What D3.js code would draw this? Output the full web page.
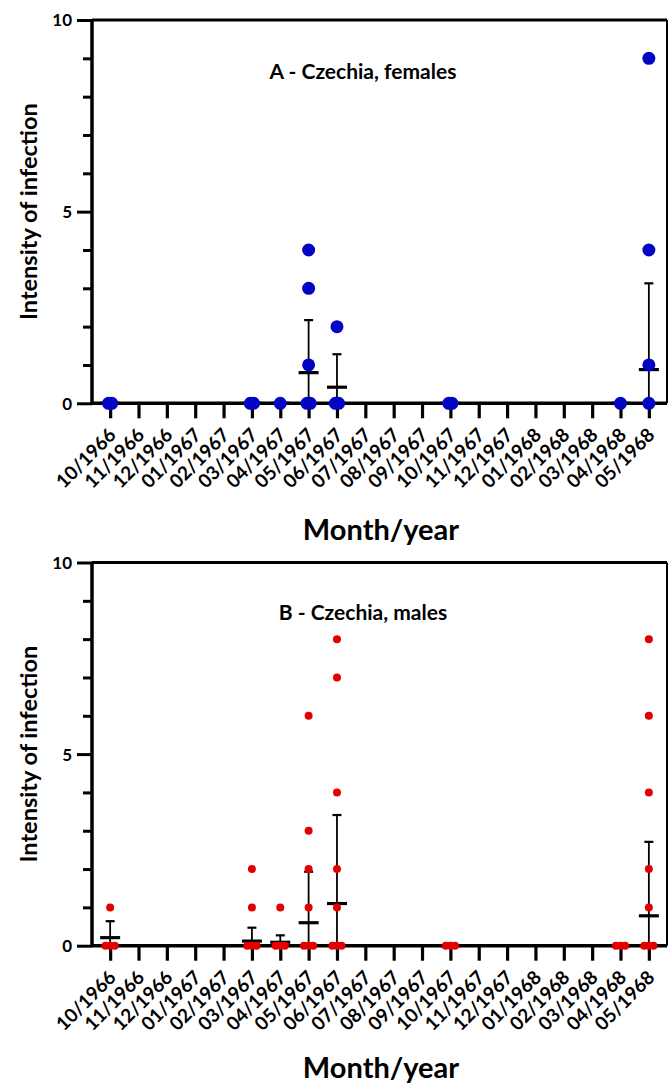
<!DOCTYPE html>
<html>
<head>
<meta charset="utf-8">
<script src="https://cdn.jsdelivr.net/npm/d3@7/dist/d3.min.js"></script>
<style>
  html, body { margin: 0; padding: 0; background: #fff; }
  svg { display: block; }
  text { font-family: Lato, "Open Sans", sans-serif; font-weight: bold; fill: #000; }
</style>
</head>
<body>
<svg id="chart" width="668" height="1086"></svg>
<script>
// ---------- data ----------
const months = ["10/1966","11/1966","12/1966","01/1967","02/1967","03/1967","04/1967","05/1967","06/1967","07/1967","08/1967","09/1967","10/1967","11/1967","12/1967","01/1968","02/1968","03/1968","04/1968","05/1968"];
const yTicksMajor = [0, 5, 10];
const yTicksMinor = [1, 2, 3, 4, 6, 7, 8, 9];

const sampledMonths = ["10/1966","03/1967","04/1967","05/1967","06/1967","10/1967","04/1968","05/1968"];

const femaleValues = [[0,0],[0,0],[0],[4,3,1,0,0],[2,0,0],[0,0],[0],[9,4,1,0]];
const femaleMean   = [0, 0, 0, 0.80, 0.42, 0, 0, 0.88];
const femaleSD     = [0, 0, 0, 1.37, 0.86, 0, 0, 2.25];

const maleValues = [[1,0,0,0],[2,1,0,0,0],[1,0,0,0],[6,3,2,1,0,0,0],[8,7,4,2,1,0,0,0],[0,0,0],[0,0,0],[8,6,4,2,1,0,0,0]];
const maleMean   = [0.21, 0.12, 0.09, 0.60, 1.10, 0, 0, 0.78];
const maleSD     = [0.43, 0.35, 0.18, 1.33, 2.31, 0, 0, 1.93];

const panels = [
  { title: "A - Czechia, females", values: femaleValues, mean: femaleMean, sd: femaleSD,
    color: "#0404c4", r: 6.5, spread: 1.6, top: 20, bottom: 403.3, titleY: 79, xTitleY: 540 },
  { title: "B - Czechia, males", values: maleValues, mean: maleMean, sd: maleSD,
    color: "#e20000", r: 4, spread: 4.6, top: 562.5, bottom: 945.7, titleY: 620, xTitleY: 1078 }
];

// ---------- drawing ----------
const svg = d3.select("#chart");
const left = 92, right = 667;

const x = d3.scalePoint().domain(months).range([left, right]).padding(0.64);

panels.forEach(p => {
  const g = svg.append("g");
  const y = d3.scaleLinear().domain([0, 10]).range([p.bottom, p.top]);

  // frame (top & right)
  g.append("line").attr("x1", left).attr("x2", right).attr("y1", p.top).attr("y2", p.top)
    .attr("stroke", "#000").attr("stroke-width", 3);
  g.append("line").attr("x1", right).attr("x2", right).attr("y1", p.top).attr("y2", p.bottom)
    .attr("stroke", "#000").attr("stroke-width", 2);

  // error bars and means (drawn under the axes and points)
  sampledMonths.forEach((m, i) => {
    const cx = x(m);
    const mean = p.mean[i], sd = p.sd[i];
    if (sd > 0) {
      g.append("line").attr("x1", cx).attr("x2", cx)
        .attr("y1", y(Math.max(0, mean - sd))).attr("y2", y(mean + sd))
        .attr("stroke", "#000").attr("stroke-width", 1.8);
      g.append("line").attr("x1", cx - 4.5).attr("x2", cx + 4.5).attr("y1", y(mean + sd)).attr("y2", y(mean + sd))
        .attr("stroke", "#000").attr("stroke-width", 2.2);
    }
    g.append("line").attr("x1", cx - 10).attr("x2", cx + 10).attr("y1", y(mean)).attr("y2", y(mean))
      .attr("stroke", "#000").attr("stroke-width", 3.2);
  });

  // y axis
  const yAxis = d3.axisLeft(y).tickValues(yTicksMajor).tickSize(15).tickPadding(5).tickFormat(d3.format("d"));
  const ya = g.append("g").attr("transform", `translate(${left},0)`).call(yAxis);
  ya.select(".domain").attr("stroke-width", 3.5).attr("d", `M0,${p.top}V${p.bottom}`);
  ya.selectAll(".tick line").attr("stroke-width", 3);
  ya.selectAll(".tick text").style("font-size", "17px").attr("dy", "0.35em");
  const yMinor = d3.axisLeft(y).tickValues(yTicksMinor).tickSize(9).tickFormat("");
  const ym = g.append("g").attr("transform", `translate(${left},0)`).call(yMinor);
  ym.select(".domain").remove();
  ym.selectAll(".tick line").attr("stroke-width", 3);

  // x axis
  const xAxis = d3.axisBottom(x).tickSize(15).tickFormat("");
  const xa = g.append("g").attr("transform", `translate(0,${p.bottom})`).call(xAxis);
  xa.select(".domain").attr("stroke-width", 3.5).attr("d", `M${left},0H${right}`);
  xa.selectAll(".tick line").attr("stroke-width", 3.2);
  xa.selectAll(".xlabel").data(months).enter().append("text")
    .attr("class", "xlabel")
    .attr("text-anchor", "end")
    .style("font-size", "19px")
    .text(d => d)
    .attr("transform", d => `translate(${x(d) + 7},${33}) rotate(-45)`);

  // axis titles
  g.append("text").attr("x", 381).attr("y", p.xTitleY).attr("text-anchor", "middle")
    .style("font-size", "29px").text("Month/year");
  g.append("text").attr("transform", `translate(37,${(p.top + p.bottom) / 2}) rotate(-90)`)
    .attr("text-anchor", "middle").style("font-size", "23.5px").text("Intensity of infection");

  // panel title
  g.append("text").attr("x", 363).attr("y", p.titleY).attr("text-anchor", "middle")
    .style("font-size", "21px").text(p.title);

  // points (duplicates spread horizontally)
  sampledMonths.forEach((m, i) => {
    const vals = p.values[i];
    const counts = d3.rollup(vals, v => v.length, v => v);
    const seen = new Map();
    vals.forEach(v => {
      const n = counts.get(v);
      const k = seen.get(v) || 0;
      seen.set(v, k + 1);
      const off = n > 1 ? -p.spread + (2 * p.spread) * k / (n - 1) : 0;
      g.append("circle").attr("cx", x(m) + off).attr("cy", y(v)).attr("r", p.r).attr("fill", p.color);
    });
  });
});
</script>
</body>
</html>
